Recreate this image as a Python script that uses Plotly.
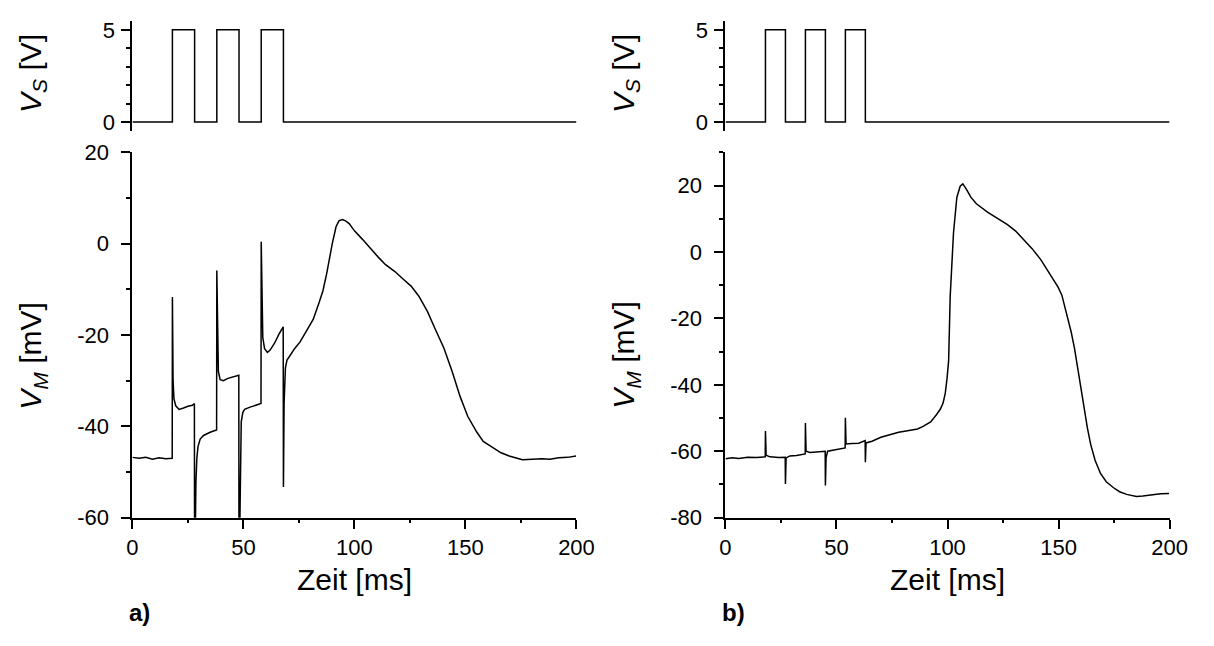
import plotly.graph_objects as go

# ---- stimulus pulses (V_S) ----
vs_a_t = [0, 18, 18, 28, 28, 38, 38, 48, 48, 58, 58, 68, 68, 200]
vs_a_v = [0, 0, 5, 5, 0, 0, 5, 5, 0, 0, 5, 5, 0, 0]
vs_b_t = [0, 18, 18, 27, 27, 36, 36, 45, 45, 54, 54, 63, 63, 200]
vs_b_v = [0, 0, 5, 5, 0, 0, 5, 5, 0, 0, 5, 5, 0, 0]

# ---- membrane potential (V_M), panel a ----
vm_a_t = [0, 3, 6, 9, 12, 15, 17.9, 18, 18.3, 18.7, 19.5, 21, 23, 25, 27, 27.9,
          28, 28.3, 28.6, 29, 29.5, 30.5, 32, 35, 37.9,
          38, 38.3, 38.7, 39.5, 41, 43, 45, 47, 47.9,
          48, 48.3, 48.6, 49, 49.7, 50.5, 53, 55, 57.9,
          58, 58.3, 58.7, 59.5, 60.8, 62, 64, 66, 67.9,
          68, 68.3, 68.9, 69.6, 71, 73, 75.5, 78, 81.4, 84, 85.8, 87.5, 88.7, 90,
          91.7, 93, 94.6, 96, 97.6, 100, 103.5, 107, 110.8, 114, 118.2, 122, 125.5,
          129, 132.9, 136, 140.3, 144, 147.6, 151, 155, 158, 162.3, 166, 169.7,
          173, 175.6, 180, 184.4, 188, 192, 196, 199.8]
vm_a_v = [-46.8, -47.0, -46.8, -47.2, -46.9, -47.1, -47.0, -11.7, -30, -34, -35.5, -36.3, -36.0, -35.6, -35.4, -35.0,
          -75, -62, -52, -47, -44.5, -42.8, -42.0, -41.3, -40.8,
          -5.9, -24, -28, -29.8, -30.0, -29.5, -29.2, -29.0, -28.8,
          -75, -60, -46, -39, -37, -36.3, -35.8, -35.5, -35.0,
          0.4, -15, -20.5, -23, -23.8, -23.3, -21.8, -19.8, -18.2,
          -53.3, -35, -27.2, -25.5, -24.5, -23.0, -21.5, -19.5, -16.6, -13, -10.3, -6.5, -3.3, 0,
          3.7, 5.0, 5.3, 5.0, 4.4, 2.8, 1.0, -1.0, -3.0, -4.6, -6.1, -7.8, -9.3,
          -11.5, -14.9, -18.3, -22.9, -28, -33.5, -37.8, -41.2, -43.3, -44.7, -45.8, -46.5,
          -47.0, -47.3, -47.2, -47.1, -47.2, -46.9, -46.8, -46.5]

# ---- membrane potential (V_M), panel b ----
vm_b_t = [0, 3, 6, 10, 14, 17.9, 18, 18.3, 20, 24, 26.9,
          27, 27.3, 29, 32, 35.9, 36, 36.3, 38, 42, 44.9,
          45, 45.3, 46, 49, 53.9, 54, 54.3, 57, 60, 62.9,
          63, 63.3, 66, 70, 73.3, 78, 82, 86.5, 89, 92.4, 95, 96.8, 98, 99, 99.8,
          100.5, 101.2, 102.7, 104.2, 105.7, 106.9, 108.6, 110.5, 113, 118, 123.3,
          127, 130.7, 134, 138.1, 142, 145.4, 148, 149.8, 151.5, 152.8, 154.3,
          155.7, 157.2, 158.6, 160, 161.6, 163, 164.5, 166.5, 168.9, 171.5, 174.8,
          177.5, 180.7, 185.1, 188, 192.5, 196, 199.8]
vm_b_v = [-62.3, -62.0, -62.2, -61.8, -61.9, -61.7, -53.9, -61.2, -61.7, -61.9, -61.8,
          -69.9, -62, -61.4, -61.3, -60.8, -51.5, -60, -60.4, -60.2, -60.0,
          -70.3, -62, -60, -59.6, -59.0, -49.9, -57.8, -57.7, -57.6, -56.8,
          -63.3, -57.5, -57.0, -55.8, -55.1, -54.3, -53.8, -53.3, -52.5, -51.2, -49, -47.3, -45.5, -42.5, -38,
          -32.8, -13.5, 5.8, 16.4, 19.8, 20.5, 18.8, 16.5, 14.5, 12, 9.7,
          8.2, 6.3, 4.0, 1, -2.3, -5.8, -8.5, -10.6, -13, -16.4, -20,
          -24.1, -29, -34.8, -41, -47.3, -53, -58, -62.8, -66.7, -69.2, -71,
          -72.2, -73, -73.6, -73.5, -73, -72.8, -72.7]

# ---- axis ticks ----
time_ticks = [0, 50, 100, 150, 200]
vs_ticks = [0, 5]
vm_a_ticks = [-60, -40, -20, 0, 20]
vm_b_ticks = [-80, -60, -40, -20, 0, 20]

FONT = "Liberation Sans, Arial, sans-serif"
W, H = 1214, 646

def px_x(p):
    return p / W

def px_y(p):
    return 1 - p / H

fig = go.Figure()

line = dict(color="black", width=1.5)
fig.add_trace(go.Scatter(x=vs_a_t, y=vs_a_v, mode="lines", line=line, xaxis="x", yaxis="y"))
fig.add_trace(go.Scatter(x=vm_a_t, y=vm_a_v, mode="lines", line=line, xaxis="x2", yaxis="y2"))
fig.add_trace(go.Scatter(x=vs_b_t, y=vs_b_v, mode="lines", line=line, xaxis="x3", yaxis="y3"))
fig.add_trace(go.Scatter(x=vm_b_t, y=vm_b_v, mode="lines", line=line, xaxis="x4", yaxis="y4"))

LEFT, RIGHT = 129, 734       # left edge of each panel's plot area (px)
PW = 453                     # plot area width (px)
left_dom = [px_x(LEFT), px_x(LEFT + PW)]
right_dom = [px_x(RIGHT), px_x(RIGHT + PW)]
top_dom = [px_y(124), px_y(9)]
bot_dom = [px_y(526), px_y(146)]

tickfont = dict(family=FONT, size=22, color="black")

def xaxis_hidden(dom, anchor):
    return dict(domain=dom, range=[0, 200], visible=False, anchor=anchor)

def xaxis_time(dom, anchor):
    return dict(domain=dom, range=[0, 200], anchor=anchor, showline=True, linecolor="black",
                linewidth=2, ticks="outside", ticklen=9, tickwidth=2, tickcolor="black",
                tickvals=time_ticks, ticktext=[str(v) for v in time_ticks],
                tickfont=tickfont, showgrid=False, zeroline=False,
                minor=dict(tickvals=[25, 75, 125, 175], ticks="outside", ticklen=3,
                           tickwidth=2, tickcolor="black", showgrid=False))

def yaxis(dom, anchor, rng, vals, minor_vals, standoff):
    return dict(domain=dom, range=rng, anchor=anchor, showline=True, linecolor="black",
                linewidth=2, ticks="outside", ticklen=9, tickwidth=2, tickcolor="black",
                tickvals=vals, ticktext=[str(v) for v in vals], tickfont=tickfont,
                ticklabelstandoff=standoff,
                showgrid=False, zeroline=False,
                minor=dict(tickvals=minor_vals, ticks="outside", ticklen=4,
                           tickwidth=2, tickcolor="black", showgrid=False))

fig.update_layout(
    width=W, height=H,
    margin=dict(l=0, r=0, t=0, b=0),
    paper_bgcolor="white", plot_bgcolor="white",
    showlegend=False,
    xaxis=xaxis_hidden(left_dom, "y"),
    yaxis=yaxis(top_dom, "x", [-0.5, 5.5], vs_ticks, [1, 2, 3, 4], 2),
    xaxis2=xaxis_time(left_dom, "y2"),
    yaxis2=yaxis(bot_dom, "x2", [-60, 20], vm_a_ticks, [-50, -30, -10, 10], 8),
    xaxis3=xaxis_hidden(right_dom, "y3"),
    yaxis3=yaxis(top_dom, "x3", [-0.5, 5.5], vs_ticks, [1, 2, 3, 4], 2),
    xaxis4=xaxis_time(right_dom, "y4"),
    yaxis4=yaxis(bot_dom, "x4", [-80, 30], vm_b_ticks, [-70, -50, -30, -10, 10, 30], 8),
)

title_font = dict(family=FONT, size=30, color="black")
annotations = []
for ax_px in (LEFT, RIGHT):
    annotations.append(dict(text="<i>V</i><sub><i>S</i></sub> [V]", x=px_x(ax_px - 102), y=px_y(64),
                            xref="paper", yref="paper", showarrow=False, textangle=-90,
                            font=title_font, xanchor="center", yanchor="middle"))
    annotations.append(dict(text="<i>V</i><sub><i>M</i></sub> [mV]", x=px_x(ax_px - 102), y=px_y(357),
                            xref="paper", yref="paper", showarrow=False, textangle=-90,
                            font=title_font, xanchor="center", yanchor="middle"))
    annotations.append(dict(text="Zeit [ms]", x=px_x(ax_px + PW / 2), y=px_y(590),
                            xref="paper", yref="paper", showarrow=False,
                            font=title_font, xanchor="center", yanchor="middle"))
annotations.append(dict(text="<b>a)</b>", x=px_x(136), y=px_y(625), xref="paper", yref="paper",
                        showarrow=False, font=dict(family=FONT, size=24, color="black"),
                        xanchor="center", yanchor="middle"))
annotations.append(dict(text="<b>b)</b>", x=px_x(742), y=px_y(625), xref="paper", yref="paper",
                        showarrow=False, font=dict(family=FONT, size=24, color="black"),
                        xanchor="center", yanchor="middle"))
fig.update_layout(annotations=annotations)

fig.write_html("out.html")
